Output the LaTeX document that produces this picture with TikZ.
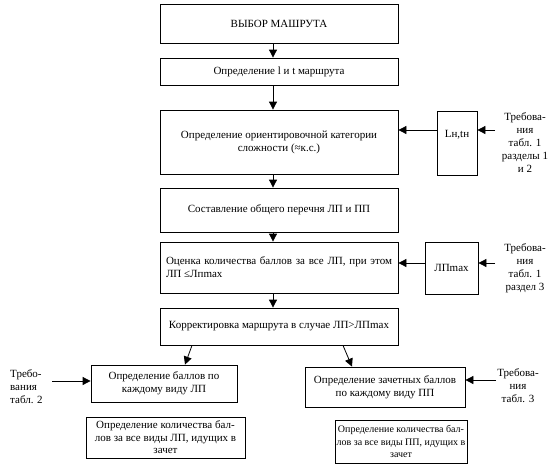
\documentclass[tikz,border=0pt]{standalone}
\usepackage{fontspec}
\setmainfont{Liberation Serif}
\usetikzlibrary{arrows.meta}
\begin{document}
\begin{tikzpicture}[x=1pt,y=-1pt,
  box/.style={draw, line width=0.8pt, inner sep=0pt, align=center, font=\fontsize{11}{13}\selectfont},
  txt/.style={inner sep=0pt, align=center, font=\fontsize{11}{13}\selectfont},
  arr/.style={-{Triangle[length=8pt,width=8pt]}, line width=0.8pt}]
\useasboundingbox (0,0) rectangle (550,464);
% main column
\node[box, minimum width=238, minimum height=39] (b1) at (279,23.5) {ВЫБОР МАШРУТА};
\node[box, minimum width=238, minimum height=27] (b2) at (279,71.5) {Определение l и t маршрута};
\node[box, minimum width=238, minimum height=64] (b3) at (279,142) {Определение ориентировочной категории\\сложности (≈к.с.)};
\node[box, minimum width=238, minimum height=44] (b4) at (279,210) {Составление общего перечня ЛП и ПП};
\node[box, minimum width=238, minimum height=51, align=left] (b5) at (279,267.5) {\makebox[226pt][s]{Оценка количества баллов за все ЛП, при этом}\\ЛП ≤Лпmax\hspace*{150pt}};
\node[box, minimum width=238, minimum height=37] (b6) at (279,326.5) {Корректировка маршрута в случае ЛП>ЛПmax};
% side boxes
\node[box, minimum width=40, minimum height=64, label={[txt, anchor=north, yshift=-19]north:Lн,tн}] (lt) at (457,143) {};
\node[box, minimum width=53, minimum height=52] (lp) at (451.5,268) {ЛПmax};
\node[txt] (t1) at (525,143) {Требова-\\ния\\табл. 1\\разделы 1\\и 2};
\node[txt] (t2) at (525,268) {Требова-\\ния\\табл. 1\\раздел 3};
% bottom
\node[box, minimum width=146, minimum height=37] (l1) at (164,383.5) {Определение баллов по\\каждому виду ЛП};
\node[box, minimum width=159, minimum height=41, font=\fontsize{11}{12.5}\selectfont] (l2) at (165.5,437.5) {Определение количества бал-\\лов за все виды ЛП, идущих в\\зачет};
\node[box, minimum width=160, minimum height=40] (r1) at (385,387) {Определение зачетных баллов\\по каждому виду ПП};
\node[box, minimum width=132, minimum height=43, font=\fontsize{10}{12.5}\selectfont] (r2) at (401,441.5) {Определение количества бал-\\лов за все виды ПП, идущих в\\зачет};
\node[txt, anchor=west, align=left] (tl) at (10,387) {Требо-\\вания\\табл. 2};
\node[txt] (tr) at (518,386) {Требова-\\ния\\табл. 3};
% coordinates
\coordinate (ax) at (273,0);
\coordinate (y1) at (0,130);
\coordinate (y2) at (0,263);
\coordinate (c1) at (495,130);
\coordinate (c2) at (495,263);
\coordinate (c3) at (52,381);
\coordinate (c4) at (496,380);
\coordinate (d1a) at (192,0);
\coordinate (d1b) at (185,0);
\coordinate (d2a) at (343,0);
\coordinate (d2b) at (352,0);
% connectors
\draw[arr] (b1.south -| ax) -- (b2.north -| ax);
\draw[arr] (b2.south -| ax) -- (b3.north -| ax);
\draw[arr] (b3.south -| ax) -- (b4.north -| ax);
\draw[arr] (b4.south -| ax) -- (b5.north -| ax);
\draw[arr] (b5.south -| ax) -- (b6.north -| ax);
\draw[arr] (lt.west |- y1) -- (b3.east |- y1);
\draw[arr] (c1) -- (lt.east |- c1);
\draw[arr] (lp.west |- y2) -- (b5.east |- y2);
\draw[arr] (c2) -- (lp.east |- c2);
\draw[arr] (b6.south -| d1a) -- (l1.north -| d1b);
\draw[arr] (b6.south -| d2a) -- (r1.north -| d2b);
\draw[arr] (c3) -- (l1.west |- c3);
\draw[arr] (c4) -- (r1.east |- c4);
\end{tikzpicture}
\end{document}
